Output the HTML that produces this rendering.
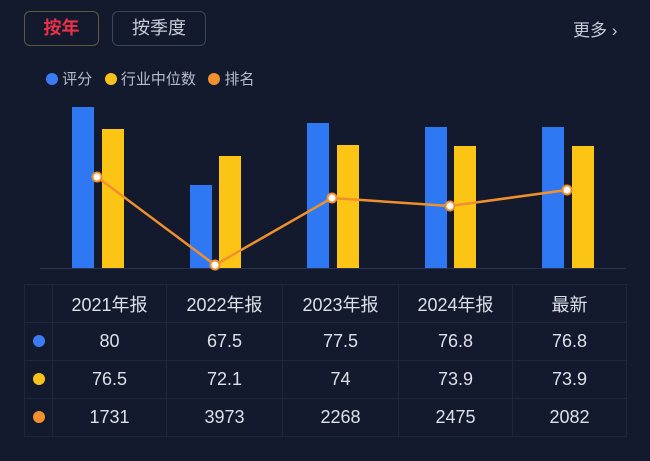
<!DOCTYPE html><html><head><meta charset="utf-8"><style>
body{margin:0;width:650px;height:461px;background:#131a2e;font-family:"Liberation Sans","Noto Sans CJK SC",sans-serif;position:relative;overflow:hidden;color:#e6e8ee}
.btn{position:absolute;top:11px;height:35px;border-radius:6px;box-sizing:border-box;font-size:18px;line-height:33px;text-align:center}
table{position:absolute;left:24px;top:284px;border-collapse:collapse;width:602px;table-layout:fixed}
td{border:1px solid #1e2640;height:37px;text-align:center;font-size:18px;color:#dde0e8;padding:0}
.d{display:inline-block;width:12px;height:12px;border-radius:50%}
</style></head><body>
<div class="btn" style="left:24px;width:75px;border:1px solid #5a5a3a;color:#e8304a;font-weight:bold">按年</div>
<div class="btn" style="left:112px;width:94px;border:1px solid #3a4560;color:#c8ccd8">按季度</div>
<div style="position:absolute;left:573px;top:16px;font-size:17px;color:#c8ccd8">更多 ›</div>
<div style="position:absolute;left:46px;top:68px;font-size:15px;color:#b8bccb">
<span class="d" style="background:#3b7cf5;vertical-align:-1px"></span> 评分&nbsp;&nbsp;&nbsp;<span class="d" style="background:#f9c21b;vertical-align:-1px"></span> 行业中位数&nbsp;&nbsp;&nbsp;<span class="d" style="background:#f2902e;vertical-align:-1px"></span> 排名</div>
<svg width="650" height="461" style="position:absolute;left:0;top:0">
<line x1="40" y1="268.5" x2="626" y2="268.5" stroke="#2a3350"/>
<g fill="#2f78f4"><rect x="72" y="107" width="22" height="161"/><rect x="190" y="185" width="22" height="83"/><rect x="307" y="123" width="22" height="145"/><rect x="425" y="127" width="22" height="141"/><rect x="542" y="127" width="22" height="141"/></g>
<g fill="#fcc516"><rect x="102" y="129" width="22" height="139"/><rect x="219" y="156" width="22" height="112"/><rect x="337" y="145" width="22" height="123"/><rect x="454" y="146" width="22" height="122"/><rect x="572" y="146" width="22" height="122"/></g>
<polyline points="97,177 215,265 332,198 450,206 567,190" fill="none" stroke="#f0902c" stroke-width="2.5"/>
<g fill="#fff" stroke="#f0902c" stroke-width="2"><circle cx="97" cy="177" r="4.5"/><circle cx="215" cy="265" r="4.5"/><circle cx="332" cy="198" r="4.5"/><circle cx="450" cy="206" r="4.5"/><circle cx="567" cy="190" r="4.5"/></g>
</svg>
<table>
<colgroup><col style="width:28px"><col style="width:114px"><col style="width:116px"><col style="width:116px"><col style="width:114px"><col style="width:114px"></colgroup>
<tr><td></td><td>2021年报</td><td>2022年报</td><td>2023年报</td><td>2024年报</td><td>最新</td></tr>
<tr><td><span class="d" style="background:#3b7cf5"></span></td><td>80</td><td>67.5</td><td>77.5</td><td>76.8</td><td>76.8</td></tr>
<tr><td><span class="d" style="background:#f9c21b"></span></td><td>76.5</td><td>72.1</td><td>74</td><td>73.9</td><td>73.9</td></tr>
<tr><td><span class="d" style="background:#f2902e"></span></td><td>1731</td><td>3973</td><td>2268</td><td>2475</td><td>2082</td></tr>
</table>
</body></html>
